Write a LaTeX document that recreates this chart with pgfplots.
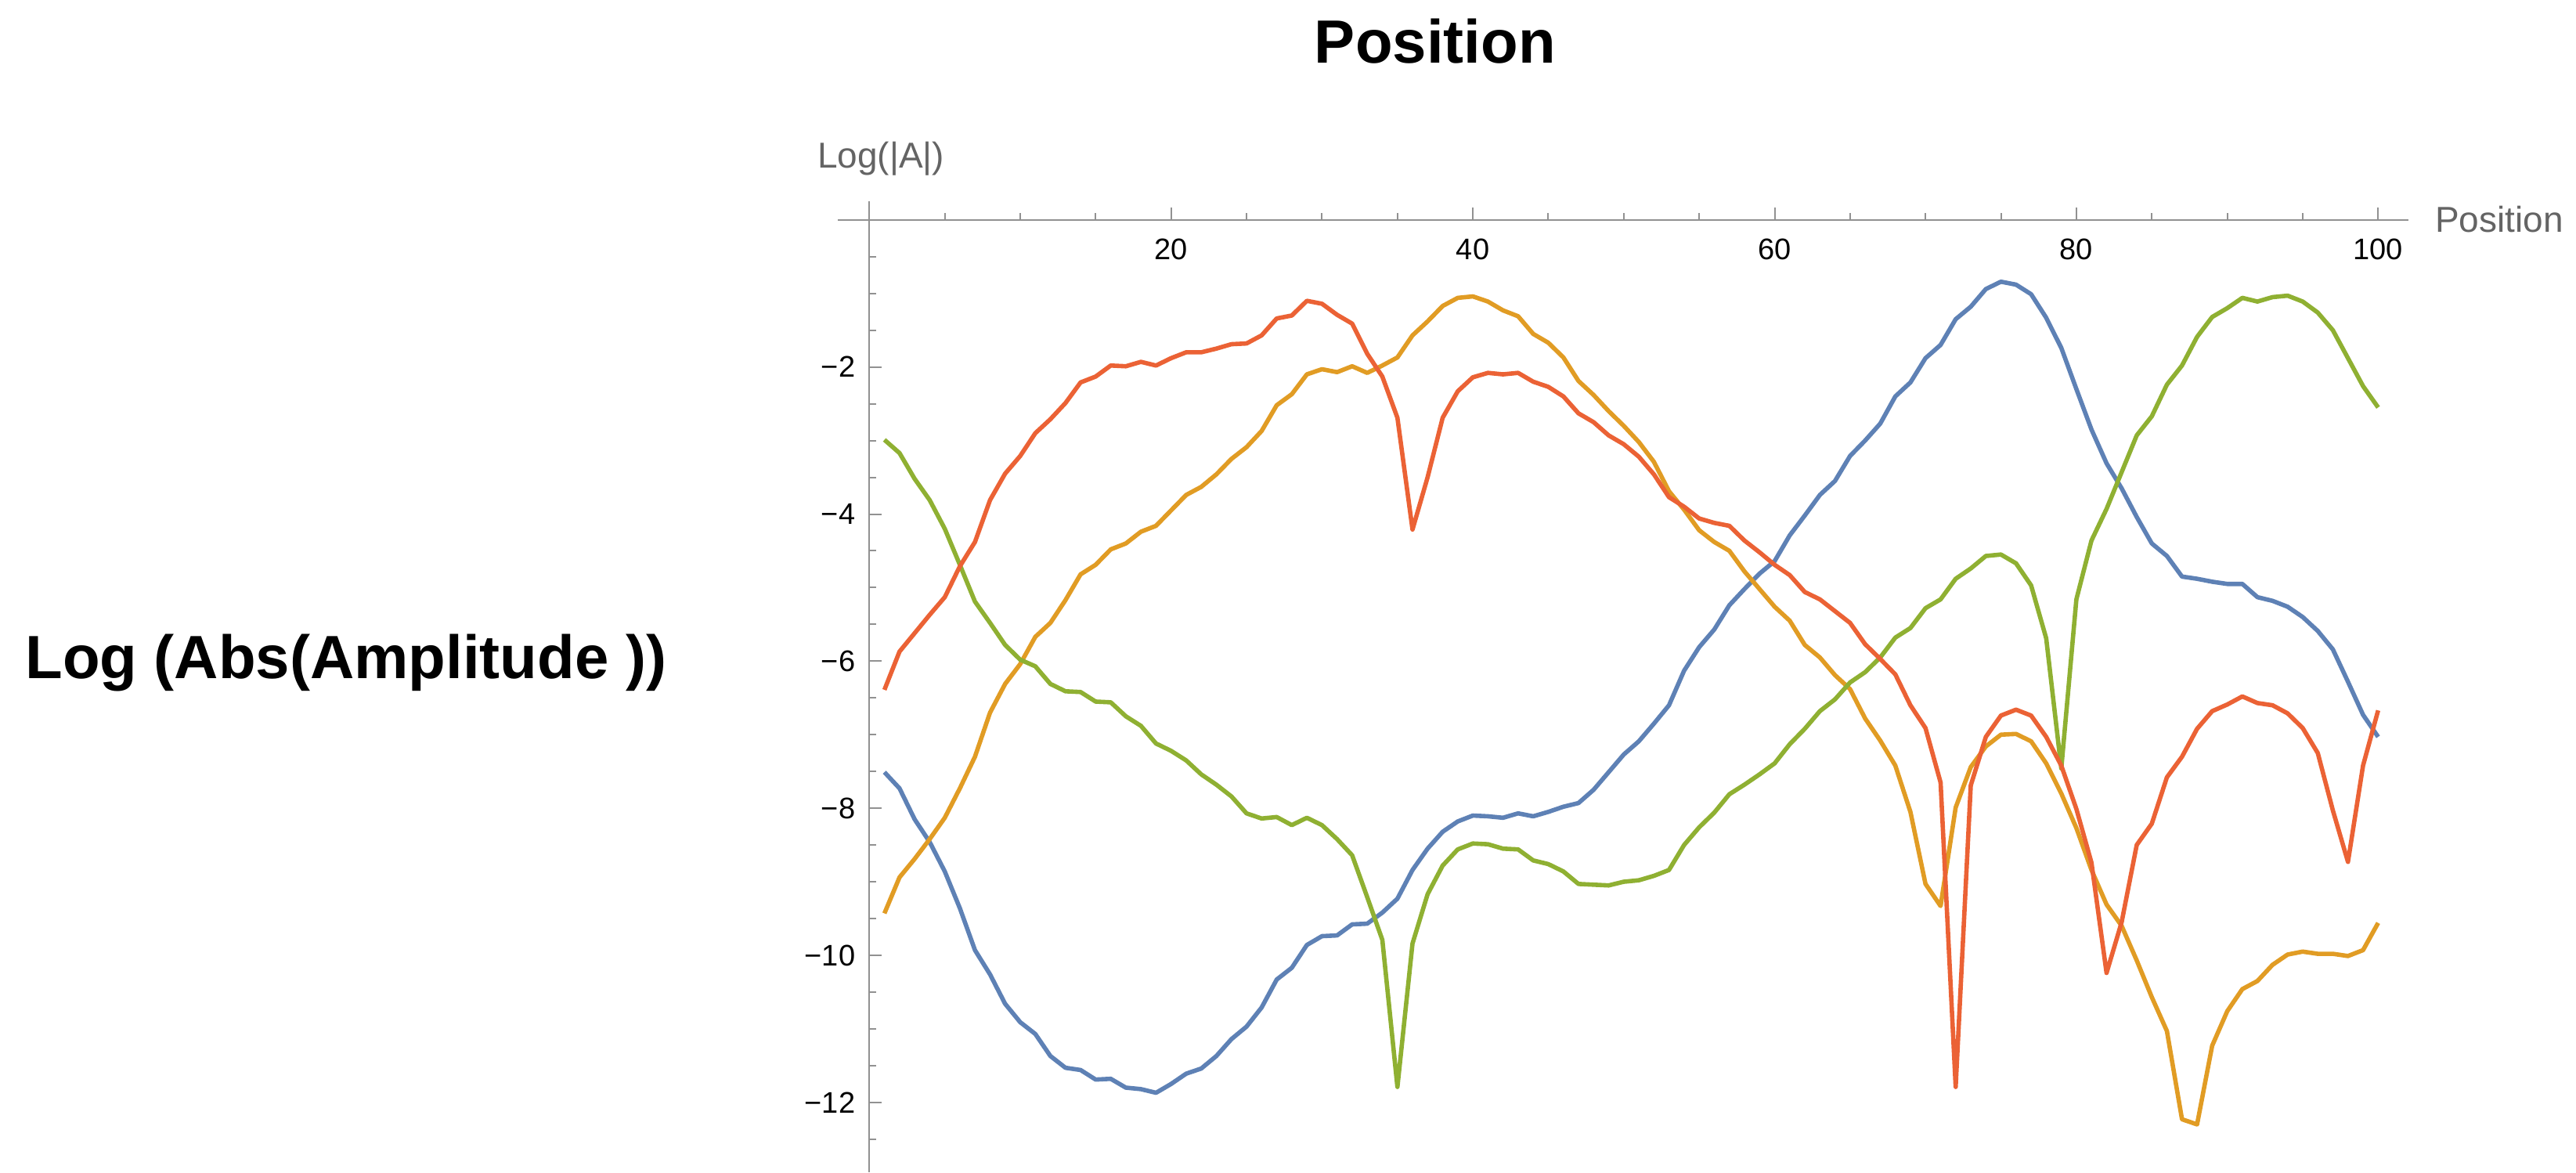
\documentclass[border=0pt]{standalone}
\usepackage{pgfplots}
\pgfplotsset{compat=1.18}
\usepackage{pgfplotstable}
\usepackage{fontspec}
\setmainfont{Liberation Sans}
\definecolor{mblue}{RGB}{94,129,181}
\definecolor{morange}{RGB}{225,156,36}
\definecolor{mgreen}{RGB}{143,176,50}
\definecolor{mred}{RGB}{235,98,53}
\definecolor{axgray}{RGB}{145,145,145}
\definecolor{labgray}{RGB}{100,100,100}

\pgfplotstableread{
x B O G R
1 -7.51 -9.43 -2.99 -6.39
2 -7.73 -8.94 -3.17 -5.87
3 -8.15 -8.69 -3.52 -5.62
4 -8.46 -8.42 -3.81 -5.37
5 -8.86 -8.13 -4.20 -5.13
6 -9.36 -7.73 -4.69 -4.71
7 -9.93 -7.30 -5.19 -4.38
8 -10.26 -6.70 -5.48 -3.81
9 -10.66 -6.31 -5.78 -3.45
10 -10.91 -6.04 -5.98 -3.21
11 -11.07 -5.67 -6.07 -2.90
12 -11.37 -5.48 -6.31 -2.71
13 -11.53 -5.17 -6.41 -2.49
14 -11.56 -4.82 -6.42 -2.21
15 -11.69 -4.69 -6.55 -2.13
16 -11.68 -4.48 -6.56 -1.98
17 -11.80 -4.40 -6.75 -1.99
18 -11.82 -4.24 -6.88 -1.93
19 -11.87 -4.16 -7.12 -1.98
20 -11.75 -3.95 -7.22 -1.88
21 -11.61 -3.74 -7.35 -1.80
22 -11.54 -3.63 -7.54 -1.80
23 -11.37 -3.46 -7.68 -1.75
24 -11.14 -3.25 -7.84 -1.69
25 -10.97 -3.09 -8.07 -1.68
26 -10.71 -2.87 -8.14 -1.57
27 -10.33 -2.52 -8.12 -1.34
28 -10.17 -2.37 -8.23 -1.30
29 -9.86 -2.10 -8.13 -1.10
30 -9.74 -2.03 -8.23 -1.14
31 -9.73 -2.07 -8.42 -1.29
32 -9.58 -1.99 -8.64 -1.41
33 -9.57 -2.08 -9.21 -1.82
34 -9.42 -1.98 -9.79 -2.13
35 -9.23 -1.87 -11.79 -2.69
36 -8.84 -1.57 -9.84 -4.21
37 -8.55 -1.38 -9.17 -3.50
38 -8.32 -1.17 -8.78 -2.69
39 -8.18 -1.06 -8.56 -2.33
40 -8.10 -1.04 -8.48 -2.14
41 -8.11 -1.11 -8.49 -2.08
42 -8.13 -1.23 -8.55 -2.10
43 -8.07 -1.31 -8.56 -2.08
44 -8.11 -1.55 -8.71 -2.20
45 -8.05 -1.67 -8.76 -2.27
46 -7.98 -1.87 -8.86 -2.40
47 -7.93 -2.19 -9.03 -2.63
48 -7.75 -2.38 -9.04 -2.75
49 -7.51 -2.60 -9.05 -2.93
50 -7.27 -2.80 -9.00 -3.05
51 -7.09 -3.02 -8.98 -3.22
52 -6.85 -3.29 -8.92 -3.46
53 -6.60 -3.69 -8.84 -3.77
54 -6.13 -3.94 -8.50 -3.90
55 -5.81 -4.22 -8.26 -4.06
56 -5.57 -4.38 -8.06 -4.12
57 -5.24 -4.50 -7.81 -4.16
58 -5.02 -4.78 -7.68 -4.36
59 -4.81 -5.02 -7.54 -4.52
60 -4.64 -5.26 -7.39 -4.69
61 -4.29 -5.45 -7.13 -4.83
62 -4.02 -5.78 -6.92 -5.06
63 -3.74 -5.95 -6.68 -5.16
64 -3.55 -6.19 -6.52 -5.32
65 -3.21 -6.38 -6.29 -5.48
66 -3.00 -6.78 -6.15 -5.77
67 -2.77 -7.08 -5.95 -5.97
68 -2.40 -7.42 -5.68 -6.18
69 -2.21 -8.05 -5.55 -6.60
70 -1.88 -9.03 -5.28 -6.91
71 -1.70 -9.33 -5.16 -7.65
72 -1.35 -7.99 -4.88 -11.79
73 -1.18 -7.44 -4.74 -7.69
74 -0.94 -7.16 -4.57 -7.03
75 -0.84 -7.00 -4.55 -6.74
76 -0.88 -6.99 -4.67 -6.66
77 -1.01 -7.09 -4.97 -6.74
78 -1.33 -7.39 -5.69 -7.03
79 -1.74 -7.80 -7.46 -7.42
80 -2.30 -8.27 -5.16 -8.01
81 -2.85 -8.84 -4.36 -8.74
82 -3.31 -9.31 -3.93 -10.24
83 -3.65 -9.60 -3.43 -9.55
84 -4.04 -10.07 -2.93 -8.50
85 -4.40 -10.57 -2.67 -8.21
86 -4.57 -11.03 -2.24 -7.58
87 -4.85 -12.23 -1.98 -7.30
88 -4.88 -12.30 -1.59 -6.92
89 -4.92 -11.23 -1.32 -6.68
90 -4.95 -10.76 -1.20 -6.59
91 -4.95 -10.46 -1.06 -6.48
92 -5.13 -10.35 -1.11 -6.57
93 -5.18 -10.13 -1.05 -6.60
94 -5.26 -9.99 -1.03 -6.71
95 -5.40 -9.95 -1.11 -6.91
96 -5.59 -9.98 -1.26 -7.25
97 -5.84 -9.98 -1.50 -8.03
98 -6.28 -10.01 -1.88 -8.73
99 -6.73 -9.93 -2.26 -7.42
100 -7.03 -9.56 -2.55 -6.67
}\data

\begin{document}
\begin{tikzpicture}[x=1pt,y=1pt]
\path (0,0) rectangle (822.5,374.25);
\begin{axis}[
  at={(267.6pt,0pt)}, anchor=south west,
  scale only axis, width=501.5pt, height=309.9pt,
  xmin=-2.07, xmax=102.03, ymin=-12.95, ymax=0.25,
  axis lines=middle,
  axis line style={-, axgray, line width=0.5pt},
  tick align=inside,
  tick style={axgray, line width=0.5pt},
  major tick length=3.9pt, minor tick length=2.3pt,
  xtick={20,40,60,80,100},
  xticklabels={20,40,60,80,100},
  minor xtick={5,10,...,100},
  ytick={-12,-10,-8,-6,-4,-2},
  yticklabels={−12,−10,−8,−6,−4,−2},
  minor ytick={-12.5,-12,...,-0.5},
  ticklabel style={font=\fontsize{9.5}{11}\selectfont, black},
  xticklabel style={yshift=-2.5pt},
  yticklabel style={xshift=-1pt},
  clip=false,
  every axis plot/.append style={line width=1.4pt, line join=round},
]
\addplot[mblue, no markers] table[x=x, y=B] {\data};
\addplot[morange, no markers] table[x=x, y=O] {\data};
\addplot[mgreen, no markers] table[x=x, y=G] {\data};
\addplot[mred, no markers] table[x=x, y=R] {\data};
\end{axis}
\node[font=\bfseries\fontsize{19.5}{23}\selectfont] at (458.2,361.2) {Position};
\node[anchor=west, font=\bfseries\fontsize{19.5}{23}\selectfont, inner sep=0pt] at (7.9,162.7) {Log (Abs(Amplitude ))};
\node[font=\fontsize{11.5}{13}\selectfont, text=labgray] at (281.3,323.5) {Log(|A|)};
\node[anchor=west, font=\fontsize{11.5}{13}\selectfont, text=labgray, inner sep=0pt] at (777.3,304.3) {Position};
\end{tikzpicture}
\end{document}
